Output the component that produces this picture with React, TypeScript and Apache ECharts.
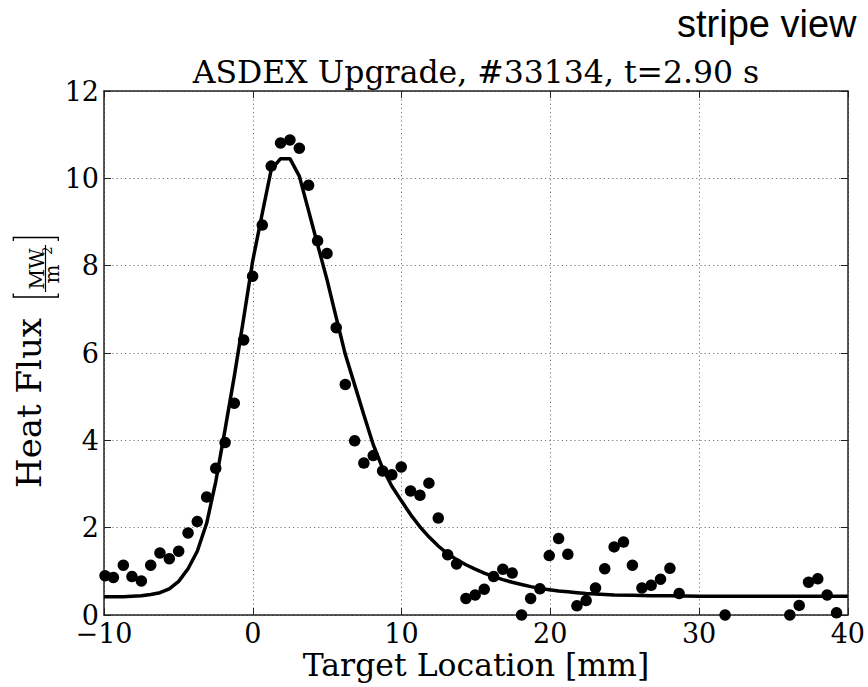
import React, { useEffect, useRef } from "react";
import * as echarts from "echarts";

// measured data points (target location in mm, heat flux in MW/m^2)
const dataX = [
  -9.93, -9.37, -8.70, -8.12, -7.49, -6.86, -6.24, -5.61, -4.98, -4.35, -3.73, -3.10, -2.49, -1.86, -1.24, -0.61,
  -0.01, 0.64, 1.24, 1.87, 2.50, 3.13, 3.75, 4.36, 4.99, 5.61, 6.22, 6.85, 7.47, 8.10, 8.73, 9.35, 9.98,
  10.61, 11.24, 11.84, 12.47, 13.10, 13.70, 14.33, 14.95, 15.56, 16.19, 16.81, 17.44, 18.07, 18.68, 19.30, 19.93,
  20.56, 21.18, 21.79, 22.41, 23.04, 23.66, 24.29, 24.92, 25.52, 26.16, 26.78, 27.41, 28.04, 28.66,
  31.75, 36.10, 36.73, 37.36, 37.98, 38.61, 39.24,
];
const dataY = [
  0.90, 0.86, 1.14, 0.88, 0.78, 1.14, 1.42, 1.29, 1.46, 1.88, 2.14, 2.70, 3.36, 3.95, 4.85, 6.30,
  7.76, 8.93, 10.28, 10.81, 10.88, 10.69, 9.84, 8.57, 8.28, 6.58, 5.28, 3.99, 3.48, 3.65, 3.30, 3.21, 3.39,
  2.84, 2.74, 3.02, 2.22, 1.38, 1.17, 0.38, 0.46, 0.59, 0.88, 1.05, 0.96, 0.0, 0.38, 0.60, 1.36,
  1.75, 1.39, 0.21, 0.33, 0.62, 1.06, 1.56, 1.67, 1.14, 0.62, 0.68, 0.82, 1.07, 0.49,
  0.0, 0.0, 0.22, 0.75, 0.83, 0.46, 0.05,
];

// fitted profile
const fitX = [
  -10, -9.37, -8.70, -8.12, -7.49, -6.86, -6.24, -5.61, -4.98, -4.35, -3.73, -3.10, -2.49, -1.86, -1.24, -0.61,
  -0.01, 0.64, 1.24, 1.87, 2.50, 3.13, 3.75, 4.36, 4.99, 5.61, 6.22, 6.85, 7.47, 8.10, 8.73, 9.35, 9.98,
  10.61, 11.24, 11.84, 12.47, 13.10, 13.70, 14.33, 14.95, 15.56, 16.19, 16.81, 17.44, 18.07, 18.68, 19.30, 19.93,
  20.56, 21.18, 21.79, 22.41, 23.04, 24.29, 25.52, 26.78, 28.04, 30, 35, 40,
];
const fitY = [
  0.42, 0.42, 0.42, 0.43, 0.44, 0.47, 0.51, 0.60, 0.77, 1.06, 1.46, 2.10, 3.05, 4.25, 5.47, 6.80,
  8.10, 9.20, 10.20, 10.45, 10.45, 10.05, 9.26, 8.48, 7.68, 6.81, 5.97, 5.27, 4.58, 3.90, 3.36, 2.95, 2.62,
  2.30, 2.02, 1.79, 1.58, 1.40, 1.27, 1.15, 1.05, 0.96, 0.88, 0.81, 0.75, 0.70, 0.65, 0.61, 0.58,
  0.55, 0.53, 0.51, 0.49, 0.48, 0.46, 0.45, 0.44, 0.44, 0.43, 0.43, 0.43,
];

const xMin = -10;
const xMax = 40;
const xStep = 10;
const yMin = 0;
const yMax = 12;
const yStep = 2;

const titleText = "ASDEX Upgrade, #33134, t=2.90 s";
const xLabelText = "Target Location [mm]";
const yLabelText = "Heat Flux";
const cornerText = "stripe view";

const SERIF = '"DejaVu Serif", serif';

export default function App() {
  const ref = useRef<HTMLDivElement>(null);

  useEffect(() => {
    if (!ref.current) return;
    const chart = echarts.init(ref.current, null, { renderer: "svg" });

    const axisColor = "#222";
    const gridLine = { show: true, lineStyle: { color: "#777", width: 1, type: [1.2, 3] as any } };
    const tick = { show: true, inside: true, length: 7, lineStyle: { color: axisColor, width: 1 } };
    const xLabelFmt = (v: number) => (v < 0 ? "\u2212" + Math.abs(v) : String(v));

    chart.setOption({
      animation: false,
      backgroundColor: "#fff",
      grid: { left: 104, right: 20, top: 91, bottom: 72, containLabel: false },
      xAxis: [
        {
          type: "value",
          min: xMin,
          max: xMax,
          interval: xStep,
          position: "bottom",
          axisLine: { show: true, onZero: false, lineStyle: { color: axisColor, width: 1.5 } },
          axisTick: tick,
          splitLine: gridLine,
          axisLabel: {
            color: "#000",
            fontFamily: SERIF,
            fontSize: 27,
            lineHeight: 24,
            margin: 6,
            formatter: xLabelFmt,
          },
        },
        {
          type: "value",
          min: xMin,
          max: xMax,
          interval: xStep,
          position: "top",
          axisLine: { show: true, onZero: false, lineStyle: { color: axisColor, width: 1.5 } },
          axisTick: tick,
          splitLine: { show: false },
          axisLabel: { show: false },
        },
      ],
      yAxis: [
        {
          type: "value",
          min: yMin,
          max: yMax,
          interval: yStep,
          position: "left",
          axisLine: { show: true, onZero: false, lineStyle: { color: axisColor, width: 1.5 } },
          axisTick: tick,
          splitLine: gridLine,
          axisLabel: { color: "#000", fontFamily: SERIF, fontSize: 27, margin: 5 },
        },
        {
          type: "value",
          min: yMin,
          max: yMax,
          interval: yStep,
          position: "right",
          axisLine: { show: true, onZero: false, lineStyle: { color: axisColor, width: 1.5 } },
          axisTick: tick,
          splitLine: { show: false },
          axisLabel: { show: false },
        },
      ],
      series: [
        {
          type: "line",
          data: fitX.map((x, i) => [x, fitY[i]]),
          showSymbol: false,
          symbol: "none",
          lineStyle: { color: "#000", width: 3.5 },
          z: 2,
        },
        {
          type: "scatter",
          data: dataX.map((x, i) => [x, dataY[i]]),
          symbol: "circle",
          symbolSize: 11.5,
          itemStyle: { color: "#000", opacity: 1 },
          clip: false,
          z: 3,
        },
      ],
      graphic: [
        {
          type: "text",
          x: 476,
          y: 72.4,
          style: { text: titleText, font: `31.5px ${SERIF}`, fill: "#000", align: "center", verticalAlign: "middle" },
        },
        {
          type: "text",
          x: 476,
          y: 664.5,
          style: { text: xLabelText, font: `31.5px ${SERIF}`, fill: "#000", align: "center", verticalAlign: "middle" },
        },
        {
          type: "text",
          x: 677,
          y: 24,
          style: {
            text: cornerText,
            font: '38px "Liberation Sans", Arial, sans-serif',
            fill: "#000",
            align: "left",
            verticalAlign: "middle",
          },
        },
        {
          type: "group",
          x: 42,
          y: 488,
          rotation: Math.PI / 2,
          children: [
            {
              type: "text",
              x: 0,
              y: -13,
              style: { text: yLabelText, font: `34px ${SERIF}`, fill: "#000", align: "left", verticalAlign: "middle" },
            },
            {
              type: "polyline",
              shape: { points: [[194.5, -28.7], [191, -28.7], [191, 16.3], [194.5, 16.3]] },
              style: { stroke: "#000", lineWidth: 1.3, fill: null },
            },
            {
              type: "polyline",
              shape: { points: [[247, -28.7], [250.5, -28.7], [250.5, 16.3], [247, 16.3]] },
              style: { stroke: "#000", lineWidth: 1.3, fill: null },
            },
            {
              type: "text",
              x: 219,
              y: -5.5,
              style: { text: "MW", font: `20px ${SERIF}`, fill: "#000", align: "center", verticalAlign: "middle" },
            },
            {
              type: "line",
              shape: { x1: 196, y1: 3.5, x2: 243, y2: 3.5 },
              style: { stroke: "#000", lineWidth: 1.2 },
            },
            {
              type: "text",
              x: 214,
              y: 10,
              style: { text: "m", font: `20px ${SERIF}`, fill: "#000", align: "center", verticalAlign: "middle" },
            },
            {
              type: "text",
              x: 237.5,
              y: 5.5,
              style: { text: "2", font: `13px ${SERIF}`, fill: "#000", align: "center", verticalAlign: "middle" },
            },
          ],
        },
      ],
    });

    return () => chart.dispose();
  }, []);

  return (
    <div
      ref={ref}
      style={{ position: "fixed", left: 0, top: 0, width: 868, height: 687, background: "#fff" }}
    />
  );
}
